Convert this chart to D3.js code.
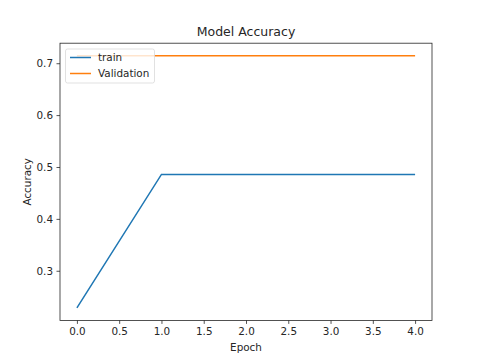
<!DOCTYPE html>
<html><head><meta charset="utf-8">
<script src="https://cdn.jsdelivr.net/npm/d3@7"></script>
<style>body{margin:0;background:#fff;} text{font-family:"DejaVu Sans",sans-serif;fill:#262626;}</style>
</head><body>
<svg id="c" width="480" height="360"></svg>
<script>
const epochs = [0, 1, 2, 3, 4];
const train = [0.2286, 0.4857, 0.4857, 0.4857, 0.4857];
const validation = [0.7143, 0.7143, 0.7143, 0.7143, 0.7143];
const xTicks = [0.0, 0.5, 1.0, 1.5, 2.0, 2.5, 3.0, 3.5, 4.0];
const yTicks = [0.3, 0.4, 0.5, 0.6, 0.7];

const svg = d3.select("#c");
const L = 60, R = 432, T = 43.2, B = 320.4;
const x = d3.scaleLinear().domain([-0.2, 4.2]).range([L, R]);
const ymin = 0.2286 - 0.05*(0.7143-0.2286), ymax = 0.7143 + 0.05*(0.7143-0.2286);
const y = d3.scaleLinear().domain([ymin, ymax]).range([B, T]);

const fs = 10.4;
const xa = svg.append("g").attr("transform", `translate(0,${B})`)
  .call(d3.axisBottom(x).tickValues(xTicks).tickFormat(d3.format(".1f")).tickSize(3.5).tickPadding(3.5));
const ya = svg.append("g").attr("transform", `translate(${L},0)`)
  .call(d3.axisLeft(y).tickValues(yTicks).tickFormat(d3.format(".1f")).tickSize(3.5).tickPadding(3.5));
[xa, ya].forEach(a => {
  a.select(".domain").remove();
  a.selectAll("line").attr("stroke", "#262626").attr("stroke-width", 0.8);
  a.selectAll("text").attr("font-size", fs).attr("font-family", "DejaVu Sans").attr("fill", "#262626");
});

const line = d3.line().x((d, i) => x(epochs[i])).y(d => y(d));
svg.append("path").datum(train).attr("d", line).attr("fill", "none").attr("stroke", "#1f77b4").attr("stroke-width", 1.5);
svg.append("path").datum(validation).attr("d", line).attr("fill", "none").attr("stroke", "#ff7f0e").attr("stroke-width", 1.5);

svg.append("rect").attr("x", L).attr("y", T).attr("width", R - L).attr("height", B - T)
  .attr("fill", "none").attr("stroke", "#262626").attr("stroke-width", 0.8);

svg.append("text").attr("x", (L + R) / 2).attr("y", T - 7).attr("text-anchor", "middle").attr("font-size", 12.5).text("Model Accuracy");
svg.append("text").attr("x", (L + R) / 2).attr("y", 351).attr("text-anchor", "middle").attr("font-size", fs).text("Epoch");
svg.append("text").attr("transform", `translate(31,${(T + B) / 2}) rotate(-90)`).attr("text-anchor", "middle").attr("font-size", fs).text("Accuracy");

const names = ["train", "Validation"];
const colors = ["#1f77b4", "#ff7f0e"];
const lg = svg.append("g");
lg.append("rect").attr("x", 65.5).attr("y", 49).attr("width", 89).attr("height", 34).attr("rx", 2)
  .attr("fill", "#fff").attr("fill-opacity", 0.8).attr("stroke", "#d9d9d9").attr("stroke-width", 0.8);
names.forEach((n, i) => {
  const yy = 57.5 + i * 16;
  lg.append("line").attr("x1", 70).attr("x2", 91).attr("y1", yy).attr("y2", yy).attr("stroke", colors[i]).attr("stroke-width", 1.5);
  lg.append("text").attr("x", 98).attr("y", yy + 3.8).attr("font-size", fs).text(n);
});
</script>
</body></html>
